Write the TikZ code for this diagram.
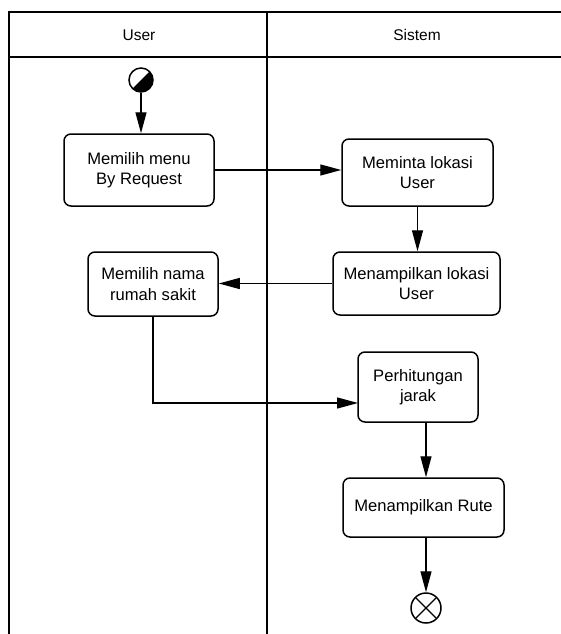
\documentclass[tikz,border=0pt]{standalone}
\usepackage{fontspec}
\setmainfont{Liberation Sans}
\usetikzlibrary{arrows.meta,calc}
\begin{document}
\begin{tikzpicture}[x=1pt,y=-1pt,
  lane/.style={line width=1.5pt,line cap=rect},
  act/.style={draw,line width=1.5pt,rounded corners=7pt,align=center,inner sep=0pt,
    font=\fontsize{16.6}{20.5}\selectfont},
  flow/.style={line width=1.3pt,-{Triangle[length=21pt,width=11pt]}},
  hdr/.style={font=\fontsize{15.5}{19}\selectfont}
]
\useasboundingbox (0,0) rectangle (561,634);
% swimlanes
\draw[lane] (9,634) -- (9,12) -- (561,12);
\draw[lane] (9,57) -- (561,57);
\draw[lane] (267,12) -- (267,634);
\node[hdr] (huser) at (139,35) {User};
\node[hdr] (hsis) at (417,35) {Sistem};
% start
\node[circle,draw,line width=1.5pt,minimum size=24pt,inner sep=0pt,
  path picture={\fill (path picture bounding box.north east) -- (path picture bounding box.south west) -- (path picture bounding box.south east) -- cycle;}]
  (start) at (141,80) {};
% activities
\node[act,minimum width=150pt,minimum height=72pt] (b1) at (139,170) {Memilih menu\\By Request};
\node[act,minimum width=151pt,minimum height=67pt] (b2) at (417.5,172.5) {Meminta lokasi\\User};
\node[act,minimum width=167pt,minimum height=63pt] (b3) at (416.5,283.5) {Menampilkan lokasi\\User};
\node[act,minimum width=130pt,minimum height=64pt] (b4) at (153,284) {Memilih nama\\rumah sakit};
\node[act,minimum width=120pt,minimum height=70pt] (b5) at (418,387) {Perhitungan\\jarak};
\node[act,minimum width=161pt,minimum height=59pt] (b6) at (423.5,507.5) {Menampilkan Rute};
% end
\node[circle,draw,line width=1.5pt,minimum size=30pt,inner sep=0pt,
  path picture={\draw[line width=1.1pt] (path picture bounding box.north east) -- (path picture bounding box.south west)
   (path picture bounding box.north west) -- (path picture bounding box.south east);}]
  (end) at (426,608) {};
\coordinate (c5) at (426,422);
\coordinate (c5in) at (358,403);
% flows
\draw[flow] (start) -- (start |- b1.north);
\draw[flow] (b1.east) -- (b1.east -| b2.west);
\draw[flow] (b2.south) -- (b2.south |- b3.north);
\draw[flow] (b3.west) -- (b3.west -| b4.east);
\draw[flow] (b4.south) |- (c5in);
\draw[flow] (c5) -- (c5 |- b6.north);
\draw[flow] (end.north |- b6.south) -- (end.north);
\end{tikzpicture}
\end{document}
